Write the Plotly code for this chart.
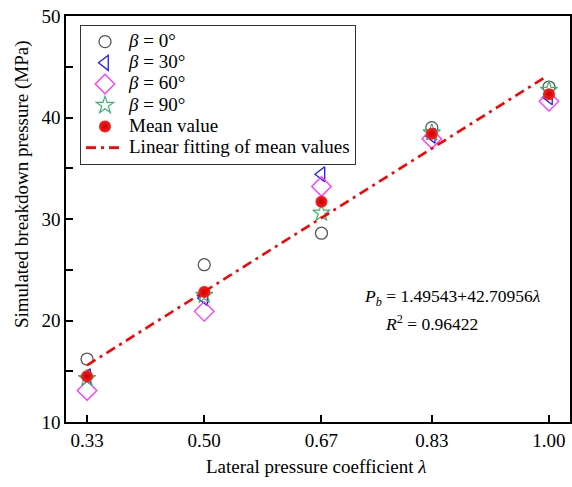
import plotly.graph_objects as go

lam = [0.33, 0.50, 0.67, 0.83, 1.00]
p_beta0 = [16.2, 25.5, 28.6, 39.0, 43.0]
p_beta30 = [14.5, 22.2, 34.4, 38.2, 42.0]
p_beta60 = [13.1, 20.9, 33.2, 37.9, 41.6]
p_beta90 = [14.3, 22.5, 30.6, 38.5, 42.7]
p_mean = [14.5, 22.8, 31.7, 38.4, 42.3]
fit_a, fit_b = 1.49543, 42.70956
fit_x = [0.33, 0.995]
fit_y = [fit_a + fit_b * x for x in fit_x]

x_ticks = [0.33, 0.50, 0.67, 0.83, 1.00]
x_ticklabels = ["0.33", "0.50", "0.67", "0.83", "1.00"]
y_ticks = [10, 20, 30, 40, 50]

FONT = "Liberation Serif"
L, R, T, B = 66, 2, 16, 65
PW, PH = 572 - L - R, 487 - T - B


def px_x(px):
    return (px - L) / PW


def px_y(py):
    return (487 - B - py) / PH


def leg(txt):
    return '<span style="font-size:19px">' + txt + '</span>'


fig = go.Figure()
fig.add_trace(go.Scatter(x=lam, y=p_beta0, mode="markers", name=leg("<i>β</i> = 0°"),
                         marker=dict(symbol="circle-open", size=12, color="#555555", line=dict(width=1.3))))
fig.add_trace(go.Scatter(x=lam, y=p_beta30, mode="markers", name=leg("<i>β</i> = 30°"),
                         marker=dict(symbol="triangle-left-open", size=13, color="#1a1aff", line=dict(width=1.3))))
fig.add_trace(go.Scatter(x=lam, y=p_beta60, mode="markers", name=leg("<i>β</i> = 60°"),
                         marker=dict(symbol="diamond-open", size=15, color="#ff33ff", line=dict(width=1.3))))
fig.add_trace(go.Scatter(x=lam, y=p_beta90, mode="markers", name=leg("<i>β</i> = 90°"),
                         marker=dict(symbol="star-open", size=13, color="#3cb371", line=dict(width=1.2))))
fig.add_trace(go.Scatter(x=lam, y=p_mean, mode="markers", name=leg("Mean value"),
                         marker=dict(symbol="circle", size=12, color="#ff2020",
                                     gradient=dict(type="radial", color="#c00000"),
                                     line=dict(width=0))))
fig.add_trace(go.Scatter(x=fit_x, y=fit_y, mode="lines", name=leg("Linear fitting of mean values"),
                         line=dict(color="#ff0000", width=2.6, dash="10px,5px,3px,5px")))

# legend shadow (drawn beneath the legend box, offset right/down)
fig.add_shape(type="rect", xref="paper", yref="paper",
              x0=px_x(84), x1=px_x(356),
              y0=px_y(164), y1=px_y(29),
              fillcolor="black", line=dict(width=0), layer="above")

fig.add_annotation(xref="paper", yref="paper", x=px_x(452), y=px_y(297),
                   text="<i>P<sub>b</sub></i> = 1.49543+42.70956<i>λ</i>",
                   showarrow=False, font=dict(family=FONT, size=17.5, color="black"),
                   xanchor="center", yanchor="middle")
fig.add_annotation(xref="paper", yref="paper", x=px_x(431), y=px_y(323),
                   text="<i>R</i><sup>2</sup> = 0.96422",
                   showarrow=False, font=dict(family=FONT, size=17.5, color="black"),
                   xanchor="center", yanchor="middle")

# axis titles
fig.add_annotation(xref="paper", yref="paper", x=px_x(316), y=px_y(466),
                   text="Lateral pressure coefficient <i>λ</i>",
                   showarrow=False, font=dict(family=FONT, size=19, color="black"),
                   xanchor="center", yanchor="middle")
fig.add_annotation(xref="paper", yref="paper", x=px_x(22), y=px_y(184),
                   text="Simulated breakdown pressure (MPa)", textangle=-90,
                   showarrow=False, font=dict(family=FONT, size=19, color="black"),
                   xanchor="center", yanchor="middle")

axis_common = dict(showline=True, linecolor="black", linewidth=1.6, mirror=True,
                   ticks="inside", ticklen=7, tickwidth=1.5, tickcolor="black",
                   showgrid=False, zeroline=False, automargin=False,
                   tickfont=dict(family=FONT, size=19, color="black"))

fig.update_xaxes(range=[0.2995, 1.0305], tickvals=x_ticks, ticktext=x_ticklabels, **axis_common)
fig.update_yaxes(range=[10, 50], tickvals=y_ticks,
                 minor=dict(ticks="inside", ticklen=7, tickwidth=1.5, tickcolor="black", dtick=5, tick0=0),
                 **axis_common)

fig.update_layout(
    width=572, height=487,
    margin=dict(l=L, r=R, t=T, b=B, autoexpand=False),
    plot_bgcolor="white", paper_bgcolor="white",
    showlegend=True,
    legend=dict(x=px_x(80), y=px_y(25), xanchor="left", yanchor="top",
                bgcolor="white", bordercolor="#333333", borderwidth=1,
                font=dict(family=FONT, size=14, color="black"),
                itemwidth=38, tracegroupgap=0),
)

fig.write_html("out.html", config={"displayModeBar": False},
               post_script="document.body.style.margin='0px';")
